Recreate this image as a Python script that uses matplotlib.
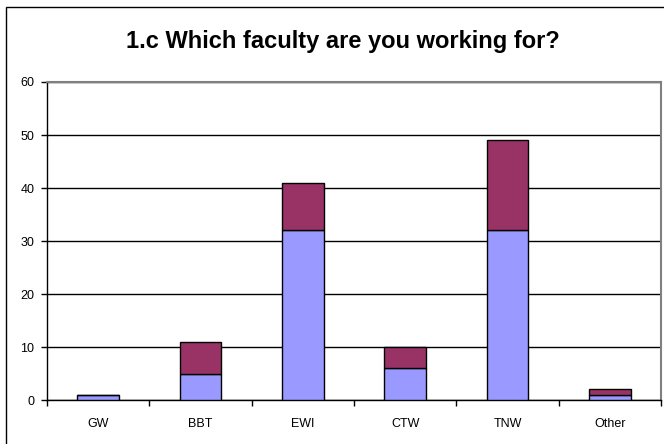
import matplotlib
matplotlib.use("Agg")
import matplotlib.pyplot as plt
from matplotlib.patches import Rectangle

# data
faculties = ['GW', 'BBT', 'EWI', 'CTW', 'TNW', 'Other']
lower = [1, 5, 32, 6, 32, 1]
upper = [0, 6, 9, 4, 17, 1]

plt.rcParams['font.family'] = ['Liberation Sans', 'DejaVu Sans']

W, H = 664, 444
fig = plt.figure(figsize=(W / 100, H / 100), dpi=100)
# plot area: x 47..661, y 82..400 (pixels)
ax = fig.add_axes([47 / W, 1 - 400 / H, 614 / W, 318 / H])

# outer chart border like Excel (right/bottom edges fall outside the picture)
fig.patches.append(Rectangle((6 / W, -0.1), 1.2, 1.1 - 7 / H, transform=fig.transFigure,
                             fill=False, edgecolor='black', linewidth=1))

x = range(len(faculties))
ax.bar(x, lower, width=0.41, color='#9999FF', edgecolor='black', linewidth=1, zorder=3)
ax.bar(x, upper, width=0.41, bottom=lower, color='#993366', edgecolor='black',
       linewidth=1, zorder=3)

ax.set_xlim(-0.5, len(faculties) - 0.5)
ax.set_ylim(0, 60)
ax.set_yticks(range(0, 61, 10))
ax.set_xticks([i - 0.5 for i in range(len(faculties) + 1)])
ax.set_xticklabels([])
ax.set_xticks(list(x), minor=True)
ax.set_xticklabels(faculties, minor=True)
ax.tick_params(axis='x', which='minor', length=0, pad=13, labelsize=9)
ax.tick_params(axis='x', which='major', length=4, width=1, direction='out', color='black')
ax.tick_params(axis='y', length=4, width=1, direction='out', labelsize=9, pad=5)

ax.grid(axis='y', color='black', linewidth=1, zorder=0)
for side in ['top', 'right']:
    ax.spines[side].set_color('#808080')
    ax.spines[side].set_linewidth(1.5)
ax.spines['left'].set_linewidth(1)
ax.spines['bottom'].set_linewidth(1)

fig.text(343 / W, 1 - 48 / H, '1.c Which faculty are you working for?', ha='center',
         va='baseline', fontsize=17, fontweight='bold')

fig.savefig('out.png', dpi=100)
